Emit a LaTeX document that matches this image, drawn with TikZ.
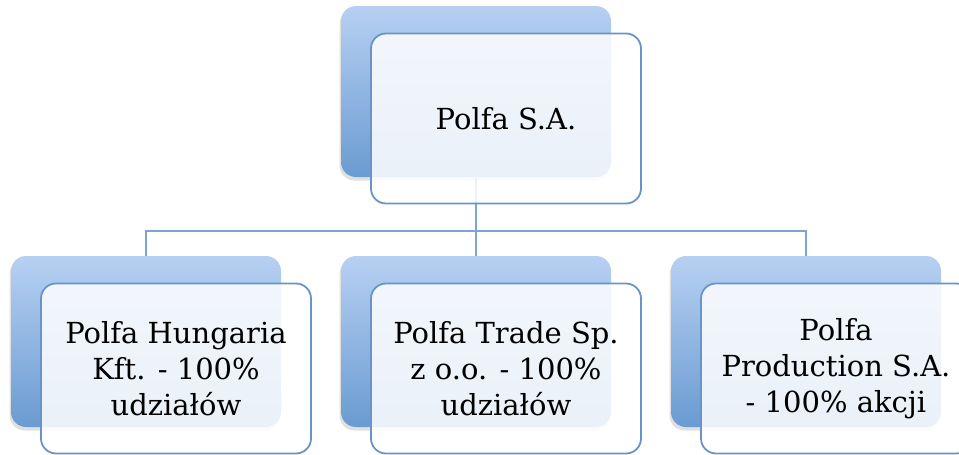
\documentclass[tikz,border=0pt]{standalone}
\usepackage{fontspec}
\setmainfont{DejaVu Serif}
\usetikzlibrary{
		calc,
		positioning
	}
\definecolor{backtop}{HTML}{B7D0F2}
\definecolor{backbot}{HTML}{6A9BD2}
\definecolor{boxline}{HTML}{6A93C8}
\definecolor{linkblue}{HTML}{7FA3D2}

\begin{document}
\begin{tikzpicture}[x=1pt, y=-1pt,
				back/.style={rectangle, rounded corners=15pt, minimum width=270pt, minimum height=171pt, top color=backtop, bottom color=backbot,
					preaction={fill=black, opacity=0.12, transform canvas={xshift=-1.5pt, yshift=-3.5pt}}},
				front/.style={rectangle, rounded corners=15pt, minimum width=270pt, minimum height=170pt, draw=boxline, line width=1.8pt,
					fill=white, fill opacity=0.86, text opacity=1, align=center, font=\fontsize{29}{36}\selectfont, xshift=30pt, yshift=-27pt},
				link/.style={draw=linkblue, line width=2pt}]
	\clip (0,0) rectangle (959,455);
	\node[back] (polfa) at (476,91.5) {};
	\node[back] (hungaria) at (146,341.5) {};
	\node[back] (trade) at (476,341.5) {};
	\node[back] (production) at (806,341.5) {};
	\coordinate (bus) at (476,231);
	\draw[link] (polfa.south) -- (bus);
	\draw[link] (bus) -| (hungaria.north);
	\draw[link] (bus) -- (trade.north);
	\draw[link] (bus) -| (production.north);
	\node[front] (polfaTxt) at (polfa) {Polfa S.A.};
	\node[front] (hungariaTxt) at (hungaria) {Polfa Hungaria\\Kft. - 100\%\\udziałów};
	\node[front] (tradeTxt) at (trade) {Polfa Trade Sp.\\z o.o. - 100\%\\udziałów};
	\node[front] (productionTxt) at (production) {Polfa\\Production S.A.\\- 100\% akcji};
\end{tikzpicture}
\end{document}
